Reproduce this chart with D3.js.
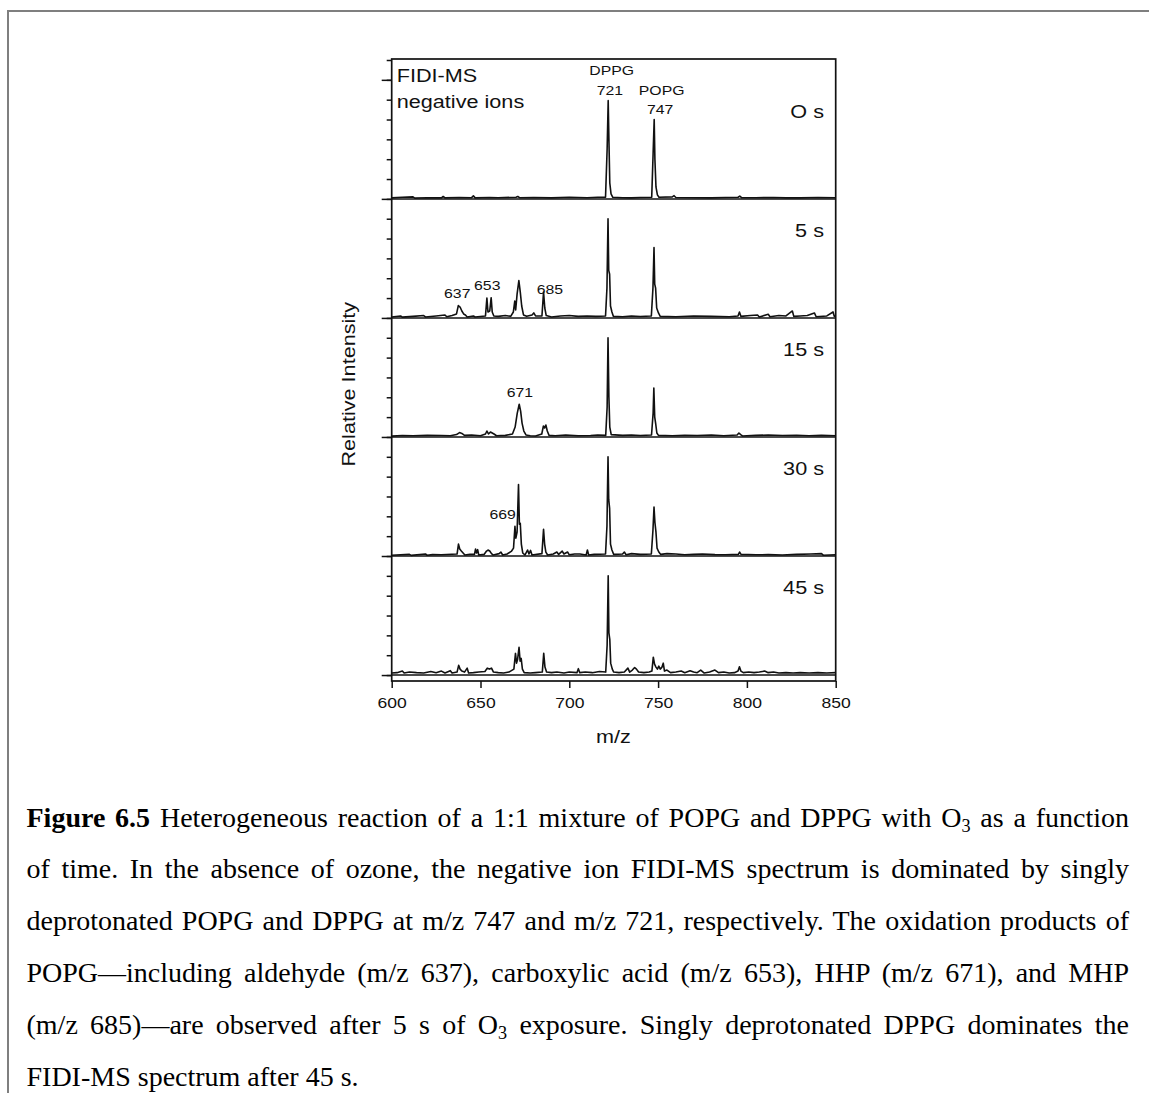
<!DOCTYPE html>
<html>
<head>
<meta charset="utf-8">
<script src="https://cdn.jsdelivr.net/npm/d3@7"></script>
<style>
	body { margin: 0; background: #fff; }
	#chart { position: absolute; left: 0; top: 0; }
	#caption {
		position: absolute; left: 26.5px; top: 791.6px; width: 1102.5px;
		font-family: "Liberation Serif", "Times New Roman", serif;
		font-size: 28px; line-height: 51.8px; color: #000;
	}
	#caption .ln { text-align: justify; text-align-last: justify; }
	#caption .ln.last { text-align: left; text-align-last: left; }
	#caption .sub { font-size: 0.65em; position: relative; top: 0.28em; line-height: 0; }
</style>
</head>
<body>
<div id="chart"></div>
<div id="caption">
	<div class="ln"><b>Figure 6.5</b> Heterogeneous reaction of a 1:1 mixture of POPG and DPPG with O<span class="sub">3</span> as a function</div>
	<div class="ln">of time. In the absence of ozone, the negative ion FIDI-MS spectrum is dominated by singly</div>
	<div class="ln">deprotonated POPG and DPPG at m/z 747 and m/z 721, respectively. The oxidation products of</div>
	<div class="ln">POPG—including aldehyde (m/z 637), carboxylic acid (m/z 653), HHP (m/z 671), and MHP</div>
	<div class="ln">(m/z 685)—are observed after 5 s of O<span class="sub">3</span> exposure. Singly deprotonated DPPG dominates the</div>
	<div class="ln last">FIDI-MS spectrum after 45 s.</div>
</div>
<script>
var WIDTH = 1149;
var HEIGHT = 1093;
var TEXT_STRETCH = 1.17;

// x axis
var MZ_TICKS = [600, 650, 700, 750, 800, 850];

// panels, top to bottom, each one stacked 6 intensity units above the next
var PANEL_NAMES = ["O s", "5 s", "15 s", "30 s", "45 s"];
var PANEL_OFFSETS = [24, 18, 12, 6, 0];

// spectra: [m/z, relative intensity above the panel baseline]
var SPEC_0S = [
	[600, 0.05], [606, 0.08], [612, 0.1], [613, 0.04], [620, 0.06], [628, 0.05], [629, 0.12], [630, 0.05],
	[638, 0.07], [645, 0.06], [646, 0.15], [647, 0.05], [655, 0.07], [660, 0.06], [670, 0.08], [671, 0.12],
	[672, 0.06], [680, 0.07], [690, 0.05], [700, 0.08], [710, 0.06], [716, 0.08], [720.4, 0.08], [721.3, 2.5],
	[721.9, 4.95], [722.3, 3.0], [722.8, 0.8], [723.5, 0.25], [724.5, 0.08], [730, 0.06], [735, 0.05],
	[740, 0.07], [746.4, 0.08], [747.2, 2.3], [747.8, 4.0], [748.2, 2.0], [748.8, 0.6], [749.6, 0.2],
	[750.5, 0.08], [758, 0.1], [759, 0.16], [760, 0.07], [770, 0.06], [780, 0.05], [788, 0.07], [795, 0.08],
	[796, 0.14], [797, 0.06], [805, 0.06], [815, 0.07], [822, 0.05], [830, 0.05], [840, 0.07], [850, 0.06]
];
var SPEC_5S = [
	[600, 0.05], [605, 0.1], [606, 0.04], [612, 0.08], [618, 0.12], [619, 0.05], [625, 0.1], [630, 0.15],
	[631, 0.06], [634, 0.12], [636.5, 0.2], [637.5, 0.62], [638.5, 0.55], [639.5, 0.35], [640.5, 0.2],
	[641.5, 0.15], [642.5, 0.05], [646, 0.1], [647, 0.05], [652.8, 0.1], [653.6, 1.0], [654.2, 0.3],
	[655.2, 0.35], [656, 1.02], [656.6, 0.3], [657.5, 0.1], [660, 0.08], [664, 0.12], [667, 0.08],
	[668.5, 0.3], [669.3, 0.85], [669.8, 0.4], [670.6, 1.2], [671.6, 1.88], [672.4, 1.3], [673.2, 0.6],
	[674.2, 0.15], [676, 0.08], [679, 0.15], [680, 0.25], [681, 0.1], [684.6, 0.1], [685.5, 1.3],
	[686.2, 0.5], [687, 0.12], [690, 0.05], [695, 0.1], [700, 0.12], [705, 0.08], [710, 0.1], [715, 0.08],
	[720.4, 0.1], [721.2, 1.5], [721.8, 5.0], [722.2, 2.4], [722.7, 2.2], [723.2, 0.6], [724, 0.3],
	[724.8, 0.08], [730, 0.06], [735, 0.1], [740, 0.07], [746.2, 0.1], [747.1, 1.5], [747.7, 3.55],
	[748.1, 1.7], [748.6, 1.5], [749.2, 0.5], [750.2, 0.25], [751.2, 0.08], [760, 0.06], [770, 0.1],
	[780, 0.08], [790, 0.06], [795, 0.1], [795.8, 0.3], [796.6, 0.08], [802, 0.12], [806, 0.15], [807, 0.05],
	[812, 0.18], [813, 0.06], [818, 0.12], [822, 0.1], [825.6, 0.35], [826.4, 0.08], [830, 0.1],
	[834, 0.12], [838, 0.25], [839, 0.06], [845, 0.1], [848.5, 0.3], [849.2, 0.08], [850, 0.1]
];
var SPEC_15S = [
	[600, 0.04], [606, 0.07], [612, 0.06], [620, 0.08], [628, 0.07], [633, 0.06], [636.5, 0.12],
	[638.2, 0.22], [639.5, 0.18], [641, 0.08], [645, 0.1], [650, 0.06], [652.8, 0.15], [653.6, 0.3],
	[654.5, 0.15], [655.6, 0.25], [656.6, 0.2], [657.6, 0.15], [659, 0.06], [664, 0.08], [668, 0.15],
	[669.5, 0.5], [670.7, 1.2], [671.8, 1.65], [672.6, 1.3], [673.4, 0.7], [674.4, 0.3], [675.6, 0.1],
	[678, 0.06], [681, 0.05], [684.5, 0.15], [685.4, 0.55], [686.1, 0.45], [686.8, 0.6], [687.6, 0.3],
	[688.6, 0.08], [692, 0.06], [698, 0.1], [705, 0.06], [712, 0.07], [716, 0.1], [720.5, 0.08],
	[721.3, 1.5], [721.8, 5.0], [722.3, 2.0], [722.8, 0.5], [723.6, 0.12], [730, 0.08], [735, 0.1],
	[740, 0.07], [746.3, 0.1], [747.2, 1.2], [747.6, 2.47], [748.1, 1.0], [748.6, 0.7], [749.3, 0.2],
	[750.2, 0.08], [758, 0.06], [765, 0.08], [772, 0.07], [780, 0.1], [787, 0.06], [794.5, 0.1],
	[795.5, 0.2], [796.5, 0.12], [797.5, 0.05], [805, 0.08], [812, 0.1], [820, 0.07], [828, 0.09],
	[835, 0.06], [842, 0.08], [850, 0.06]
];
var SPEC_30S = [
	[600, 0.04], [610, 0.08], [611, 0.03], [619, 0.1], [620, 0.04], [623, 0.07], [628, 0.06], [636.8, 0.1],
	[637.6, 0.6], [638.3, 0.35], [639.2, 0.25], [640.2, 0.15], [641.2, 0.05], [644, 0.08], [646.6, 0.08],
	[647.2, 0.35], [647.8, 0.15], [648.4, 0.32], [649, 0.05], [652, 0.08], [653.4, 0.25], [654.2, 0.3],
	[655.2, 0.25], [656.2, 0.12], [657.2, 0.05], [660.5, 0.12], [661.5, 0.2], [662.5, 0.05], [665, 0.1],
	[667.5, 0.25], [668.6, 0.4], [669.4, 1.5], [669.9, 0.9], [670.6, 1.2], [671.4, 3.6], [671.9, 1.6],
	[672.4, 1.65], [673, 0.6], [673.8, 0.15], [675, 0.05], [676.5, 0.3], [677.3, 0.1], [678.2, 0.28],
	[679, 0.05], [684.6, 0.12], [685.5, 1.35], [686.1, 0.6], [686.8, 0.2], [687.8, 0.05], [691, 0.1],
	[693, 0.2], [694, 0.08], [696, 0.25], [697, 0.1], [699, 0.2], [700, 0.06], [703, 0.1], [706, 0.1],
	[709.5, 0.05], [710.2, 0.3], [710.9, 0.05], [714, 0.08], [720.4, 0.1], [721.2, 1.5], [721.8, 5.0],
	[722.2, 2.84], [722.7, 2.4], [723.2, 0.6], [724, 0.3], [725, 0.08], [730, 0.1], [731, 0.2], [732, 0.06],
	[735, 0.12], [740, 0.08], [746.2, 0.1], [747.1, 1.3], [747.7, 2.47], [748.2, 1.7], [748.8, 1.2],
	[749.4, 0.4], [750.4, 0.2], [751.5, 0.08], [755, 0.12], [760, 0.1], [765, 0.06], [770, 0.08],
	[775, 0.1], [782, 0.07], [788, 0.06], [795.2, 0.08], [795.9, 0.2], [796.7, 0.08], [805, 0.06],
	[812, 0.07], [820, 0.05], [828, 0.08], [836, 0.1], [842, 0.12], [843, 0.04], [850, 0.06]
];
var SPEC_45S = [
	[600, 0.1], [603, 0.12], [606, 0.2], [607, 0.1], [610, 0.15], [614, 0.12], [618, 0.1], [622, 0.18],
	[625, 0.12], [628, 0.2], [630, 0.1], [633, 0.22], [634, 0.1], [636.8, 0.15], [637.7, 0.49],
	[638.5, 0.3], [639.5, 0.2], [641, 0.15], [642.5, 0.35], [643.3, 0.1], [646, 0.12], [649, 0.15],
	[652.5, 0.18], [653.8, 0.35], [655, 0.3], [656.2, 0.35], [657.3, 0.15], [660, 0.12], [663, 0.1],
	[666, 0.15], [668.8, 0.3], [669.7, 1.09], [670.3, 0.6], [670.9, 0.8], [671.7, 1.4], [672.3, 0.7],
	[672.9, 0.84], [673.6, 0.3], [674.6, 0.12], [678, 0.1], [681, 0.12], [684.8, 0.15], [685.6, 1.09],
	[686.3, 0.4], [687.2, 0.15], [690, 0.12], [693, 0.15], [697, 0.1], [700, 0.15], [704.3, 0.12],
	[705.1, 0.32], [705.9, 0.12], [709, 0.15], [713, 0.12], [717, 0.18], [720.5, 0.15], [721.3, 1.5],
	[721.9, 5.0], [722.3, 2.13], [722.8, 1.8], [723.3, 0.6], [724.2, 0.3], [725, 0.15], [728, 0.12],
	[731, 0.15], [733, 0.35], [734, 0.15], [735.5, 0.25], [736.8, 0.38], [737.8, 0.3], [739, 0.15],
	[742, 0.12], [745, 0.15], [746.5, 0.2], [747.3, 0.9], [748, 0.55], [748.8, 0.4], [749.6, 0.3],
	[750.4, 0.45], [751.2, 0.3], [752.2, 0.4], [752.9, 0.6], [753.6, 0.2], [755, 0.25], [757, 0.12],
	[760, 0.15], [763, 0.2], [765, 0.12], [768, 0.22], [770, 0.15], [772, 0.12], [774, 0.25], [776, 0.1],
	[779, 0.15], [782, 0.25], [784, 0.12], [787, 0.15], [790, 0.1], [793, 0.12], [795, 0.2], [795.8, 0.42],
	[796.6, 0.2], [798, 0.12], [801, 0.15], [804, 0.12], [807, 0.15], [810, 0.2], [812, 0.12], [815, 0.15],
	[818, 0.1], [822, 0.12], [826, 0.1], [830, 0.12], [835, 0.1], [840, 0.12], [845, 0.1], [850, 0.12]
];
var SPECTRA = [SPEC_0S, SPEC_5S, SPEC_15S, SPEC_30S, SPEC_45S];

// peak annotations: [panel index, text, m/z, intensity level of the text baseline]
var PEAK_LABELS = [
	[0, "DPPG", 723.9, 6.24],
	[0, "721", 722.9, 5.24],
	[0, "POPG", 752.0, 5.24],
	[0, "747", 751.1, 4.28],
	[1, "637", 636.9, 0.99],
	[1, "653", 653.8, 1.41],
	[1, "685", 689.1, 1.2],
	[2, "671", 672.2, 2.03],
	[3, "669", 662.5, 1.85]
];

var svg = d3.select("#chart").append("svg")
	.attr("width", WIDTH)
	.attr("height", HEIGHT)
	.style("font-family", "'Liberation Sans', Arial, sans-serif");

// page border (only top and left edges are inside the picture)
svg.append("rect")
	.attr("x", 8).attr("y", 11)
	.attr("width", 1400).attr("height", 1400)
	.attr("fill", "none")
	.attr("stroke", "#7f7f7f")
	.attr("stroke-width", 2);

var x = d3.scaleLinear().domain([600, 850]).range([391.7, 835.7]);
var y = d3.scaleLinear().domain([-0.3, 31.05]).range([681, 59]);

// helper: the original figure's sans font is a bit wider than Arial
function addText(parent, px, py, str, size, anchor, rotate) {
	return parent.append("text")
		.attr("transform", `translate(${px},${py})` + (rotate ? ` rotate(${rotate})` : "") + ` scale(${TEXT_STRETCH},1)`)
		.attr("text-anchor", anchor || "start")
		.style("font-size", size + "px")
		.attr("fill", "#111")
		.text(str);
}

// panel separators / baselines
svg.selectAll(".sep")
	.data(PANEL_OFFSETS)
	.join("line")
	.attr("class", "sep")
	.attr("x1", x(600)).attr("x2", x(850))
	.attr("y1", d => y(d)).attr("y2", d => y(d))
	.attr("stroke", "#111")
	.attr("stroke-width", 1.5);

// spectra
var line = d3.line();
SPECTRA.forEach(function(spec, i) {
	var off = PANEL_OFFSETS[i];
	svg.append("path")
		.attr("d", line.x(d => x(d[0])).y(d => y(off + d[1]))(spec))
		.attr("fill", "none")
		.attr("stroke", "#111")
		.attr("stroke-width", 1.6)
		.attr("stroke-linejoin", "round");
});

// frame
svg.append("rect")
	.attr("x", x(600)).attr("y", y(31.05))
	.attr("width", x(850) - x(600))
	.attr("height", y(-0.3) - y(31.05))
	.attr("fill", "none")
	.attr("stroke", "#111")
	.attr("stroke-width", 1.7);

// y axis: minor tick every unit, long tick at every panel baseline
svg.append("g")
	.attr("transform", `translate(${x(600)},0)`)
	.call(d3.axisLeft(y).tickValues(d3.range(0, 32)).tickSize(5).tickSizeOuter(0).tickFormat(""))
	.call(g => g.select(".domain").remove())
	.call(g => g.selectAll("line").attr("stroke", "#111").attr("stroke-width", 1.5));
svg.append("g")
	.attr("transform", `translate(${x(600)},0)`)
	.call(d3.axisLeft(y).tickValues(d3.range(0, 31, 6)).tickSize(10).tickSizeOuter(0).tickFormat(""))
	.call(g => g.select(".domain").remove())
	.call(g => g.selectAll("line").attr("stroke", "#111").attr("stroke-width", 1.5));

// x axis
var xAxis = svg.append("g")
	.attr("transform", `translate(0,${y(-0.3)})`)
	.call(d3.axisBottom(x).tickValues(MZ_TICKS).tickSize(7).tickSizeOuter(0).tickFormat(d3.format("d")));
xAxis.select(".domain").remove();
xAxis.selectAll("line").attr("stroke", "#111").attr("stroke-width", 1.5);
xAxis.selectAll("text")
	.attr("y", 0).attr("dy", 0)
	.attr("transform", `translate(0,27.3) scale(${TEXT_STRETCH},1)`)
	.attr("fill", "#111")
	.style("font-size", "15px")
	.style("font-family", "'Liberation Sans', Arial, sans-serif");

// axis titles
addText(svg, 613.3, 743.3, "m/z", 18.5, "middle");
addText(svg, 355, 384.2, "Relative Intensity", 18.5, "middle", -90);

// top-left note
addText(svg, 396.7, 81.7, "FIDI-MS", 18.5);
addText(svg, 396.7, 108.3, "negative ions", 18.5);

// time labels
PANEL_NAMES.forEach(function(name, i) {
	addText(svg, 824, y(PANEL_OFFSETS[i] + 6) + 37.7, name, 18.5, "end");
});

// peak labels
PEAK_LABELS.forEach(function(p) {
	addText(svg, x(p[2]), y(PANEL_OFFSETS[p[0]] + p[3]), p[1], 13.5, "middle");
});
</script>
</body>
</html>
